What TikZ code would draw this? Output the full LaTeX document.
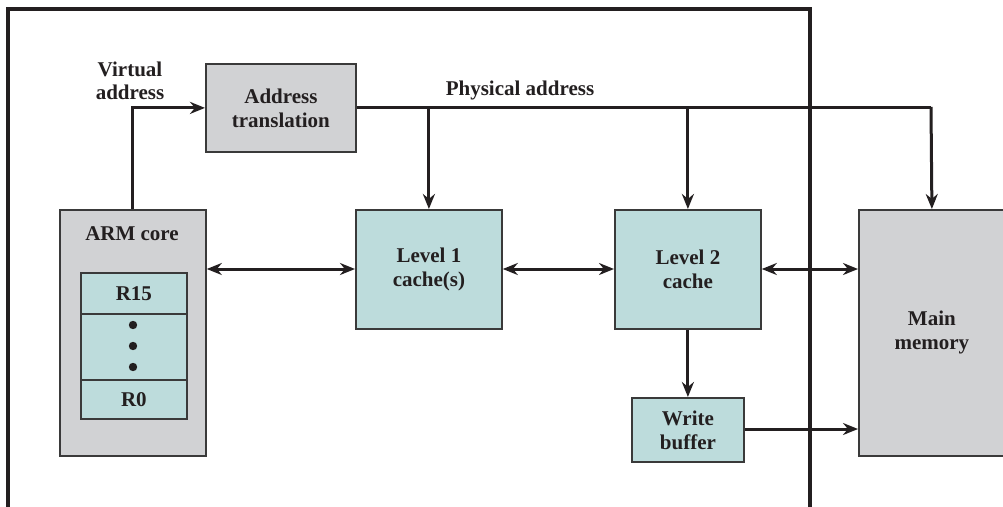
\documentclass[tikz,border=0pt]{standalone}
\usepackage{fontspec}
\setmainfont{Liberation Serif}
\usetikzlibrary{arrows.meta}
\definecolor{boxgray}{HTML}{D1D2D4}
\definecolor{boxteal}{HTML}{BDDCDC}
\definecolor{edge}{HTML}{3A3A3A}
\definecolor{ink}{HTML}{231F20}
\begin{document}
\begin{tikzpicture}[x=1pt,y=-1pt,
  every node/.style={font=\bfseries\fontsize{21}{24}\selectfont, text=ink, align=center, inner sep=0pt},
  graybox/.style={draw=edge, line width=1.8pt, fill=boxgray, anchor=north west},
  tealbox/.style={draw=edge, line width=1.8pt, fill=boxteal, anchor=north west},
  conn/.style={draw=ink, line width=3pt, -{Stealth[length=15pt,width=12pt]}},
  biconn/.style={draw=ink, line width=3pt, {Stealth[length=15pt,width=12pt]}-{Stealth[length=15pt,width=12pt]}},
  lbl/.style={font=\bfseries\fontsize{21}{23}\selectfont}
]
\useasboundingbox (0,0) rectangle (1003,506);
\fill[white] (0,0) rectangle (1003,506);
% outer frame
\draw[ink, line width=3.2pt] (8,508) -- (8,9) -- (810,9) -- (810,508);
% boxes
\node[graybox, minimum width=150pt, minimum height=88pt] (at) at (205,63) {Address\\translation};
\node[graybox, minimum width=146pt, minimum height=246pt] (arm) at (59,209) {};
\node (armlbl) at (132,234) {ARM core};
\node[tealbox, minimum width=106pt, minimum height=41pt] (r15) at (80,272) {R15};
\node[tealbox, minimum width=106pt, minimum height=66pt] (rdots) at (80,313) {};
\node[tealbox, minimum width=106pt, minimum height=39pt] (r0) at (80,379) {R0};
\foreach \yy in {325,346,367} \fill[ink] (133,\yy) circle (4.2pt);
\node[tealbox, minimum width=146pt, minimum height=119pt] (l1) at (355,209) {Level 1\\cache(s)};
\node[tealbox, minimum width=146pt, minimum height=119pt] (l2) at (614,209) {Level 2\\cache};
\node[tealbox, minimum width=112pt, minimum height=64pt] (wb) at (631,397) {Write\\buffer};
\node[graybox, minimum width=146pt, minimum height=246pt] (mm) at (858,209) {Main\\memory};
% labels
\node[lbl] (va) at (130,81) {Virtual\\address};
\node[lbl] (pa) at (520,90) {Physical address};
% connectors
\coordinate (pend) at (931,107);
\draw[conn] (arm.north) |- (at.west);
\draw[ink, line width=3pt] (at.east |- 0,107) -- (pend);
\draw[conn] (pend) -- (mm.north);
\draw[conn] (l1.north |- 0,107) -- (l1.north);
\draw[conn] (l2.north |- 0,107) -- (l2.north);
\draw[biconn] (arm.east |- 0,269) -- (l1.west |- 0,269);
\draw[biconn] (l1.east |- 0,269) -- (l2.west |- 0,269);
\draw[biconn] (l2.east |- 0,269) -- (mm.west |- 0,269);
\draw[conn] (l2.south) -- (wb.north);
\draw[conn] (wb.east |- 0,429) -- (mm.west |- 0,429);
\end{tikzpicture}
\end{document}
